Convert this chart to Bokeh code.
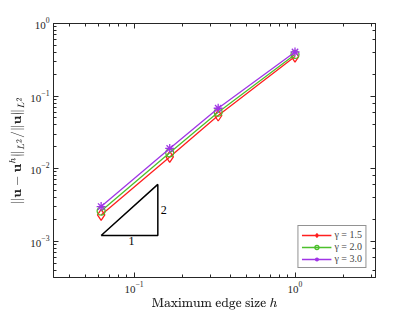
from bokeh.plotting import figure
from bokeh.models import (LogAxis, Legend, LegendItem, ColumnDataSource, Range1d,
                          FixedTicker, CustomJSTickFormatter, LogTickFormatter)
from bokeh.embed import file_html
from bokeh.resources import INLINE
from bokeh.core.properties import value

# ---- data ----
h = [1.0, 1/3, 1/6, 1/16]
err_g15 = [0.35, 0.054, 0.0145, 0.0023]
err_g20 = [0.375, 0.060, 0.0165, 0.0026]
err_g30 = [0.405, 0.068, 0.0190, 0.0030]
series_labels = ["γ = 1.5", "γ = 2.0", "γ = 3.0"]
x_major = [0.1, 1.0]
x_minor = [0.04, 0.05, 0.06, 0.07, 0.08, 0.09, 0.2, 0.3, 0.4, 0.5, 0.6, 0.7, 0.8, 0.9, 2.0, 3.0]
tri_x = [0.0625, 0.1406, 0.1406, 0.0625]
tri_y = [0.0012, 0.0012, 0.00607, 0.0012]
tri_labels = ["1", "2"]

FONT = "Liberation Serif"
AXC = "#262626"

p = figure(width=399, height=296, x_axis_type="log", y_axis_type="log",
           x_range=Range1d(10**-1.5, 10**0.5), y_range=Range1d(10**-3.5, 1.0),
           output_backend="svg", toolbar_location=None,
           min_border_left=53, min_border_top=23, min_border_right=28, min_border_bottom=27)
p.frame_width = 322
p.frame_height = 254
p.xgrid.visible = False
p.ygrid.visible = False
p.outline_line_color = AXC
p.outline_line_width = 1
p.background_fill_color = "white"
p.border_fill_color = "white"

def style_axis(ax):
    ax.axis_line_color = AXC
    ax.major_tick_line_color = AXC
    ax.minor_tick_line_color = AXC
    ax.major_tick_in = 5
    ax.major_tick_out = 0
    ax.minor_tick_in = 3
    ax.minor_tick_out = 0
    ax.major_label_text_font = FONT
    ax.major_label_text_font_size = "11px"
    ax.major_label_text_color = AXC
    ax.axis_label_text_font = FONT
    ax.axis_label_text_font_size = "12px"
    ax.axis_label_text_font_style = "normal"
    ax.axis_label_text_color = AXC

for ax in p.xaxis:
    style_axis(ax)
    ax.ticker = FixedTicker(ticks=x_major, minor_ticks=x_minor)
    ax.formatter = LogTickFormatter()
    ax.axis_label = r"$$\text{Maximum edge size }h$$"
    ax.axis_label_standoff = 2
    ax.major_label_standoff = 4
for ax in p.yaxis:
    style_axis(ax)
    ax.axis_label = r"$$\|\mathbf{u}-\mathbf{u}^h\|_{L^2}/\|\mathbf{u}\|_{L^2}$$"
    ax.axis_label_standoff = 3
    ax.major_label_standoff = 4

top = LogAxis(formatter=CustomJSTickFormatter(code="return ''"),
              ticker=FixedTicker(ticks=x_major, minor_ticks=x_minor))
style_axis(top)
top.major_label_standoff = 0
p.add_layout(top, "above")
right = LogAxis(formatter=CustomJSTickFormatter(code="return ''"))
style_axis(right)
right.major_label_standoff = 0
p.add_layout(right, "right")

colors = ["#ff1f1f", "#4cc02c", "#a035e6"]
series = [err_g15, err_g20, err_g30]
items = []
for ys, col, lab, mk in zip(series, colors, series_labels, ["diamond", "circle", "asterisk"]):
    src = ColumnDataSource(dict(x=h, y=ys))
    r1 = p.line("x", "y", source=src, line_color=col, line_width=1.3)
    sz = 11 if mk == "diamond" else (8 if mk == "circle" else 9)
    r2 = p.scatter("x", "y", source=src, marker=mk, size=sz, line_color=col,
                   fill_color=None, line_width=1.3)
    items.append(LegendItem(label=lab, renderers=[r1, r2]))

# slope triangle
p.line(tri_x, tri_y, line_color="black", line_width=1.5)
xm = (tri_x[0] * tri_x[1]) ** 0.5 * 1.03
ym = (tri_y[1] * tri_y[2]) ** 0.5
p.text(x=[xm], y=[tri_y[0]], text=[tri_labels[0]], text_font=value(FONT),
       text_font_size="12px", text_align="center", text_baseline="top", y_offset=2,
       text_color="black")
p.text(x=[tri_x[1]], y=[ym], text=[tri_labels[1]], text_font=value(FONT),
       text_font_size="12px", text_align="left", text_baseline="middle", x_offset=3,
       text_color="black")

leg = Legend(items=items, location="bottom_right")
leg.label_text_font = FONT
leg.label_text_font_size = "10px"
leg.label_height = 10
leg.glyph_height = 10
leg.glyph_width = 30
leg.spacing = 1
leg.padding = 3
leg.margin = 9
leg.border_line_color = AXC
leg.border_line_width = 1
leg.label_standoff = 3
p.add_layout(leg, "center")

open("out.html", "w").write(file_html(p, INLINE))
